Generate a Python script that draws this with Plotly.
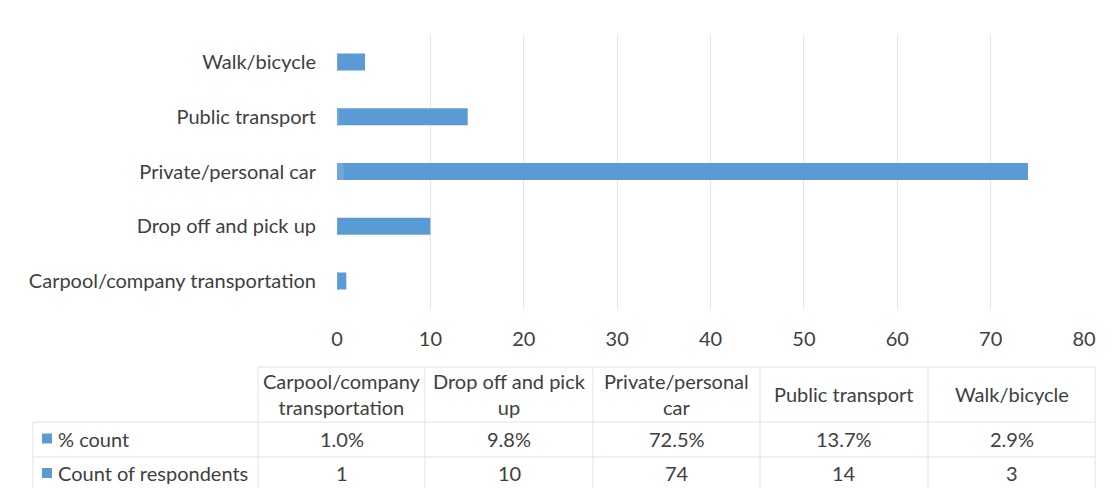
import plotly.graph_objects as go

categories = ["Carpool/company transportation", "Drop off and pick up", "Private/personal car",
              "Public transport", "Walk/bicycle"]
header_labels = ["Carpool/company<br>transportation", "Drop off and pick<br>up", "Private/personal<br>car",
                 "Public transport", "Walk/bicycle"]
pct_count = [0.010, 0.098, 0.725, 0.137, 0.029]
count_respondents = [1, 10, 74, 14, 3]
series_names = ["% count", "Count of respondents"]
x_ticks = [0, 10, 20, 30, 40, 50, 60, 70, 80]

W, H = 1118, 488
FONT = "Lato"
FS = 20
TXT = "#404040"
BLUE = "#5b9bd5"
BLUE_L = "#6fa8dc"
GRID = "#e3e3ea"

def px(x):
    return x / W

def py(y):
    return 1 - y / H

fig = go.Figure()
fig.add_trace(go.Bar(y=categories, x=count_respondents, orientation="h", name=series_names[1],
                     marker=dict(color=BLUE, line=dict(width=0)), width=0.31))
fig.add_trace(go.Bar(y=categories, x=pct_count, orientation="h", name=series_names[0],
                     marker=dict(color=BLUE_L, line=dict(width=0)), width=0.31))

fig.update_layout(
    width=W, height=H, margin=dict(l=0, r=0, t=0, b=0),
    paper_bgcolor="white", plot_bgcolor="white",
    barmode="overlay", showlegend=False,
    font=dict(family=FONT, color=TXT, size=FS),
    xaxis=dict(domain=[px(337), px(1084)], range=[0, 80], tickvals=x_ticks,
               showgrid=True, gridcolor=GRID, gridwidth=1, zeroline=False,
               showline=False, ticks="outside", ticklen=12, tickcolor="rgba(0,0,0,0)",
               automargin=False, tickfont=dict(size=FS, color=TXT)),
    yaxis=dict(domain=[py(308.5), py(34.5)], categoryorder="array", categoryarray=categories,
               showgrid=False, zeroline=False, showline=False, ticks="outside", ticklen=16,
               tickcolor="rgba(0,0,0,0)", automargin=False,
               tickfont=dict(size=FS, color=TXT)),
)

# Data table drawn beneath the chart
col_edges = [258, 425, 593, 760, 928, 1095]
left_x = 33
y_head_top, y_r1, y_r2, y_bot = 367, 422, 457, 492
LINE = dict(color="#dde3ea", width=1)
shapes = []
shapes.append(dict(type="line", xref="paper", yref="paper", x0=px(col_edges[0]), x1=px(col_edges[-1]),
                   y0=py(y_head_top), y1=py(y_head_top), line=LINE))
for yy in (y_r1, y_r2, y_bot):
    shapes.append(dict(type="line", xref="paper", yref="paper", x0=px(left_x), x1=px(col_edges[-1]),
                       y0=py(yy), y1=py(yy), line=LINE))
for xx in col_edges:
    shapes.append(dict(type="line", xref="paper", yref="paper", x0=px(xx), x1=px(xx),
                       y0=py(y_head_top), y1=py(y_bot), line=LINE))
shapes.append(dict(type="line", xref="paper", yref="paper", x0=px(left_x), x1=px(left_x),
                   y0=py(y_r1), y1=py(y_bot), line=LINE))

annotations = []
for i, lab in enumerate(header_labels):
    cx = (col_edges[i] + col_edges[i + 1]) / 2
    annotations.append(dict(x=px(cx), y=py(393.5), xref="paper", yref="paper", text=lab,
                            showarrow=False, xanchor="center", yanchor="middle",
                            font=dict(size=FS, color=TXT, family=FONT)))
rows = [(series_names[0], [f"{v * 100:.1f}%" for v in pct_count]),
        (series_names[1], [str(v) for v in count_respondents])]
for r, (name, vals) in enumerate(rows):
    cy = 438.5 if r == 0 else 473
    shapes.append(dict(type="rect", xref="paper", yref="paper", x0=px(42), x1=px(52),
                       y0=py(cy - 5), y1=py(cy + 5), fillcolor=BLUE, line=dict(width=0)))
    annotations.append(dict(x=px(56), y=py(cy), xref="paper", yref="paper", text=name,
                            showarrow=False, xanchor="left", yanchor="middle",
                            font=dict(size=FS, color=TXT, family=FONT)))
    for i, v in enumerate(vals):
        cx = (col_edges[i] + col_edges[i + 1]) / 2
        annotations.append(dict(x=px(cx), y=py(cy), xref="paper", yref="paper", text=v,
                                showarrow=False, xanchor="center", yanchor="middle",
                                font=dict(size=FS, color=TXT, family=FONT)))

fig.update_layout(shapes=shapes, annotations=annotations)
fig.write_html("out.html")
